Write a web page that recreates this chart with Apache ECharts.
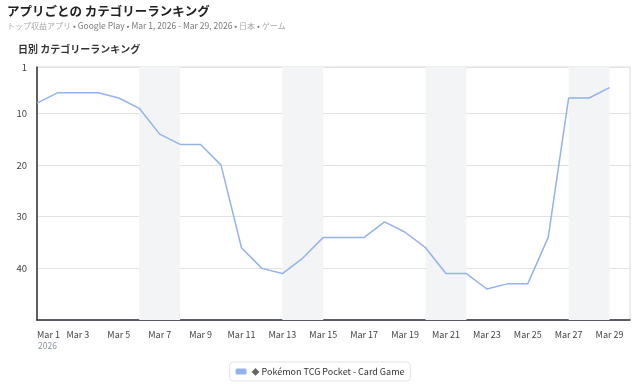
<!DOCTYPE html>
<html><head><meta charset="utf-8">
<script src="https://cdn.jsdelivr.net/npm/echarts@6/dist/echarts.min.js"></script>
<style>html,body{margin:0;padding:0;background:#fff}#c{width:640px;height:384px}</style>
</head><body><div id="c"></div>
<script>
const dates = ['Mar 1','Mar 2','Mar 3','Mar 4','Mar 5','Mar 6','Mar 7','Mar 8','Mar 9','Mar 10','Mar 11','Mar 12','Mar 13','Mar 14','Mar 15','Mar 16','Mar 17','Mar 18','Mar 19','Mar 20','Mar 21','Mar 22','Mar 23','Mar 24','Mar 25','Mar 26','Mar 27','Mar 28','Mar 29','Mar 30'];
const ranks = [8,6,6,6,7,9,14,16,16,20,36,40,41,38,34,34,34,31,33,36,41,41,44,43,43,34,7,7,5];
const weekendBands = [['Mar 6','Mar 8'],['Mar 13','Mar 15'],['Mar 20','Mar 22'],['Mar 27','Mar 29']];
const yTicks = [1,10,20,30,40,50];
const seriesName = 'Pokémon TCG Pocket - Card Game';
const FONT = '"Noto Sans CJK JP", "Noto Sans", sans-serif';

const chart = echarts.init(document.getElementById('c'));
chart.setOption({
  animation: false,
  textStyle: { fontFamily: FONT },
  title: [
    { text: 'アプリごとの カテゴリーランキング', left: 2, top: 0,
      textStyle: { fontSize: 12.5, fontWeight: 'bold', color: '#222', fontFamily: FONT } },
    { text: '{j|トップ収益アプリ} • Google Play • Mar 1, 2026 - Mar 29, 2026 • {j|日本} • {j|ゲーム}', left: 2, top: 17,
      textStyle: { fontSize: 8.5, fontWeight: 'normal', color: '#7a7a7a', fontFamily: FONT,
        rich: { j: { color: '#aaaaaa', fontSize: 8, fontFamily: FONT } } } },
    { text: '日別 カテゴリーランキング', left: 13, top: 39,
      textStyle: { fontSize: 10, fontWeight: 'bold', color: '#333', fontFamily: FONT } }
  ],
  grid: { left: 37, right: 10, top: 67, bottom: 64, show: true, borderColor: '#dcdcdc', borderWidth: 1 },
  legend: {
    bottom: 3, left: 'center',
    itemWidth: 11, itemHeight: 6, icon: 'roundRect', itemGap: 6,
    borderColor: '#e3e3e3', borderWidth: 1, borderRadius: 4, padding: [5, 6],
    formatter: n => '{d|◆} ' + n,
    textStyle: { fontSize: 9, color: '#333', fontFamily: FONT,
      rich: { d: { color: '#666', fontSize: 8 } } },
    data: [seriesName]
  },
  xAxis: {
    type: 'category', data: dates, boundaryGap: false,
    axisLine: { lineStyle: { color: '#2b2f3a', width: 1.5 } },
    axisTick: { show: false },
    axisLabel: {
      interval: 1, margin: 10, color: '#444', fontSize: 9, alignMinLabel: 'left',
      formatter: (v, i) => i === 0 ? v + '\n{y|2026}' : v,
      rich: { y: { color: '#8a94a6', fontSize: 8.5, padding: [3, 0, 0, 1] } }
    },
    splitLine: { show: false }
  },
  yAxis: {
    type: 'value', inverse: true, min: 1, max: 50,
    axisLine: { show: true, lineStyle: { color: '#2b2f3a', width: 1.5 } },
    axisTick: { show: false, customValues: yTicks },
    axisLabel: { customValues: yTicks, color: '#444', fontSize: 9.5, margin: 10,
      formatter: v => v === 50 ? '' : String(v) },
    splitLine: { show: true, lineStyle: { color: '#e2e2e2' } }
  },
  series: [{
    name: seriesName, type: 'line', data: ranks,
    showSymbol: false, symbol: 'none',
    lineStyle: { color: '#93b3ec', width: 1.5 },
    itemStyle: { color: '#93b3ec' },
    markArea: {
      silent: true,
      itemStyle: { color: '#f3f4f6' },
      data: weekendBands.map(b => [{ xAxis: b[0] }, { xAxis: b[1] }])
    },
    z: 3
  }]
});
</script></body></html>
